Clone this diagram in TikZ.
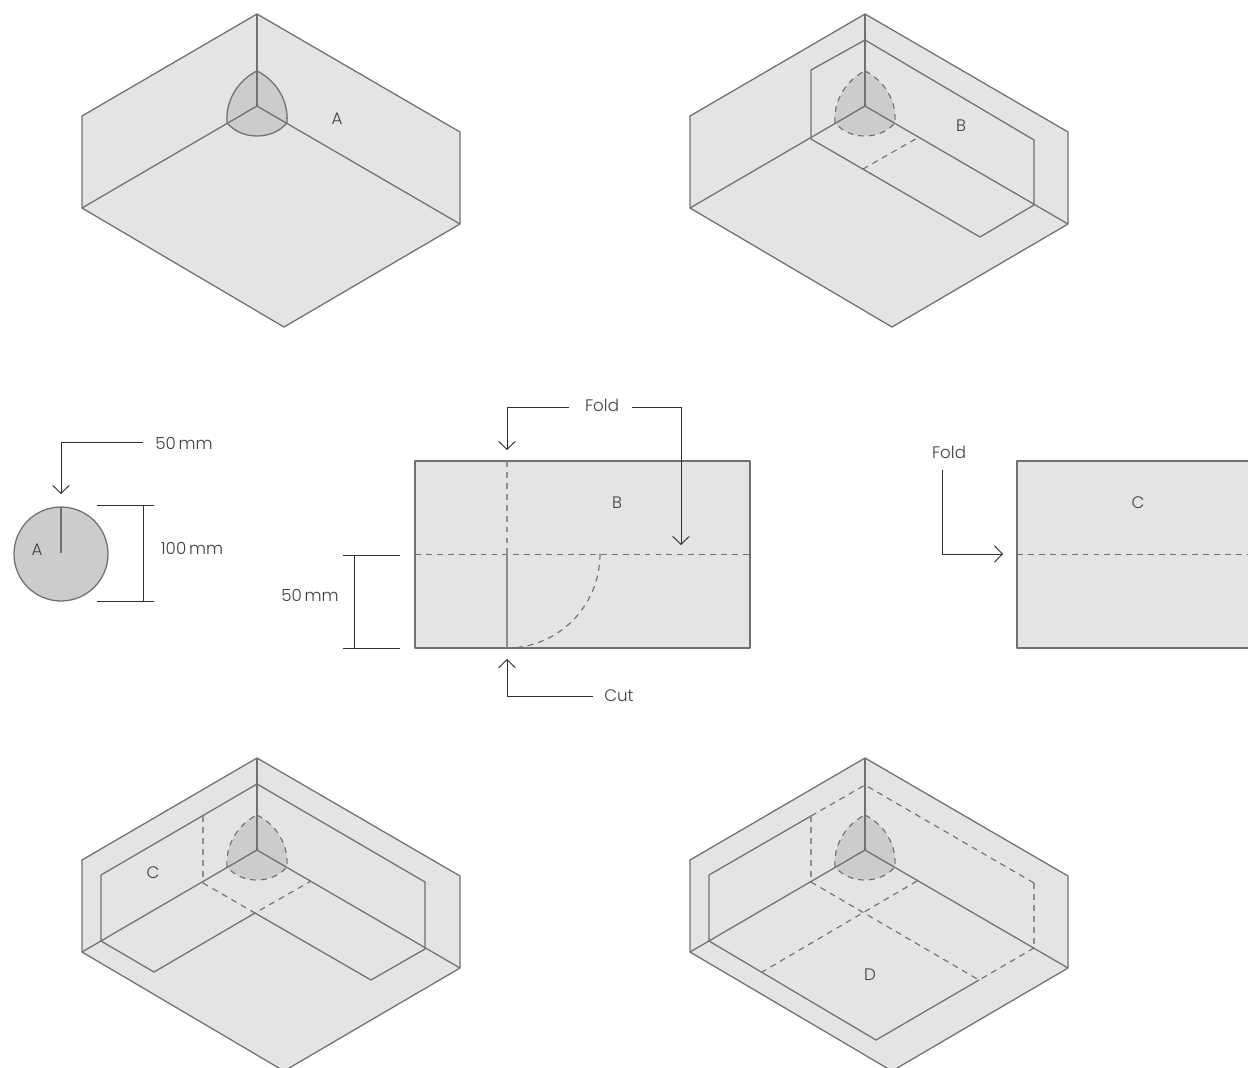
\documentclass[tikz,border=0pt]{standalone}
\usepackage{fontspec}
\setmainfont{Poppins}[UprightFont=* Light]
\usetikzlibrary{arrows.meta}
\definecolor{sheet}{HTML}{E4E4E4}
\definecolor{blobc}{HTML}{CCCCCC}
\definecolor{edge}{HTML}{707070}
\definecolor{edgesoft}{HTML}{8E8E8E}
\definecolor{ink}{HTML}{404040}
\definecolor{lead}{HTML}{303030}
\tikzset{
  x=0.75pt,y=-0.75pt,
  edgeline/.style={draw=edge,line width=0.95pt,line join=round},
  foldline/.style={draw=edge,line width=0.85pt,dash pattern=on 4.4pt off 3.8pt},
  softline/.style={draw=edgesoft,line width=0.95pt},
  softfold/.style={draw=edgesoft,line width=0.95pt,dash pattern=on 4.4pt off 3.8pt},
  leadline/.style={draw=lead,line width=0.7pt},
  leadarrow/.style={leadline,-{Straight Barb[length=6pt,width=12.5pt,line width=0.7pt]}},
  lab/.style={text=ink,font=\fontsize{12.5}{15}\selectfont,inner sep=0pt,anchor=center},
}
\newcommand{\boxshell}{%
  \fill[sheet] (257,14)--(460,132)--(460,224)--(284,327)--(82,208)--(82,116)--cycle;
  \draw[edgeline] (257,14)--(460,132)--(460,224)--(284,327)--(82,208)--(82,116)--cycle;
}
\newcommand{\blobpath}{(257,71) .. controls (270,77) and (289,95) .. (287,123) .. controls (279,132) and (268,136) .. (257,136) .. controls (246,136) and (235,132) .. (227,123) .. controls (225,95) and (244,77) .. (257,71) -- cycle}
\newcommand{\corner}{%
  \draw[edgeline] (257,14)--(257,106);
  \draw[edgeline] (82,208)--(257,106)--(460,224);
}
\begin{document}
\begin{tikzpicture}
\useasboundingbox (0,0) rectangle (1248,1067);
\clip (0,0) rectangle (1248,1067);
\fill[white] (0,0) rectangle (1248,1067);

% Box A
\boxshell
\fill[blobc] \blobpath;
\draw[edgeline] \blobpath;
\corner
\node[lab] (labA) at (337,119) {A};

% Box B
\begin{scope}[shift={(608,0)}]
\boxshell
\fill[blobc] \blobpath;
\draw[foldline] \blobpath;
\corner
\draw[edgeline] (257,40)--(203,70)--(203,139)--(372,237)--(426,205)--(426,140)--cycle;
\draw[foldline] (255,169)--(311,137);
\node[lab] (labB) at (353,126) {B};
\end{scope}

% Circle
\fill[blobc] (61,554) circle (47);
\draw[edgeline] (61,554) circle (47);
\draw[edgeline] (61,507)--(61,553);
\node[lab] (labAc) at (37,550) {A};
\node[lab] (d50a) at (184,443) {50\,mm};
\coordinate (circTip) at (61,494);
\draw[leadarrow] (143,442) -| (circTip);
\draw[leadline] (97,505)--(154,505);
\draw[leadline] (97,601)--(154,601);
\draw[leadline] (143,505)--(143,601);
\node[lab] (d100) at (192,548) {100\,mm};

% Rect B
\fill[sheet] (415,461) rectangle (750,648);
\draw[edgeline] (415,461) rectangle (750,648);
\draw[foldline] (415,554.5)--(750,554.5);
\draw[softfold] (507,461)--(507,554);
\draw[softline] (507,554)--(507,648);
\draw[foldline] (600,554) arc[start angle=0,end angle=90,x radius=93,y radius=94];
\node[lab] (labBr) at (617,503) {B};
\node[lab] (foldB) at (602,405) {Fold};
\coordinate (foldTipA) at (507,450);
\coordinate (foldTipB) at (681,545);
\draw[leadarrow] (569,407) -| (foldTipA);
\draw[leadarrow] (632,407) -| (foldTipB);
\node[lab] (cutL) at (619,696) {Cut};
\coordinate (cutTip) at (507,659);
\draw[leadarrow] (593,696) -| (cutTip);
\draw[leadline] (343,555)--(400,555);
\draw[leadline] (343,648)--(400,648);
\draw[leadline] (354,555)--(354,648);
\node[lab] (d50b) at (310,595) {50\,mm};

% Rect C
\fill[sheet] (1017,461) rectangle (1260,648);
\draw[edgeline] (1017,461) rectangle (1260,648);
\draw[foldline] (1017,554.5)--(1248,554.5);
\node[lab] (labCr) at (1138,503) {C};
\node[lab] (foldC) at (949,452) {Fold};
\coordinate (foldTipC) at (1003,554);
\draw[leadarrow] (942,470) |- (foldTipC);

% Box C
\begin{scope}[shift={(0,744)}]
\boxshell
\fill[blobc] \blobpath;
\draw[foldline] \blobpath;
\corner
\draw[edgeline] (257,40)--(101,131)--(101,197)--(154,228)--(255,169)--(371,236)--(425,205)--(425,138)--cycle;
\draw[softfold] (203,72)--(203,139);
\draw[foldline] (203,139)--(255,169)--(311,137);
\node[lab] (labC) at (153,129) {C};
\end{scope}

% Box D
\begin{scope}[shift={(608,744)}]
\boxshell
\fill[blobc] \blobpath;
\draw[foldline] \blobpath;
\corner
\draw[edgeline] (203,72)--(101,131)--(101,197)--(268,296)--(371,236);
\draw[foldline] (203,72)--(257,41)--(426,139);
\draw[softfold] (426,139)--(426,204);
\draw[foldline] (426,204)--(371,236);
\draw[softfold] (203,72)--(203,138);
\draw[foldline] (203,138)--(371,236);
\draw[foldline] (309,137)--(154,228);
\node[lab] (labD) at (262,231) {D};
\end{scope}
\end{tikzpicture}
\end{document}
